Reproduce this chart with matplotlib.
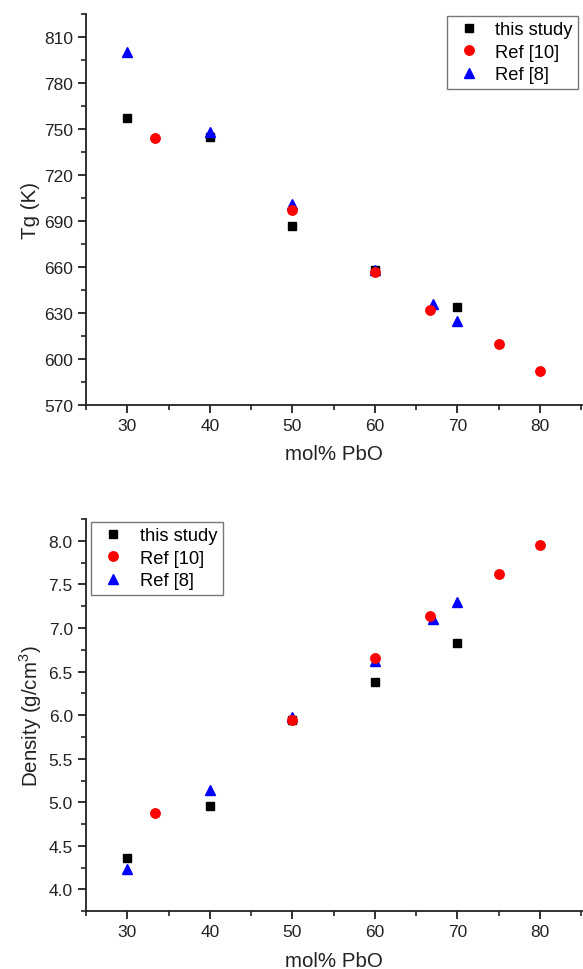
import numpy as np
import matplotlib
matplotlib.use("Agg")
import matplotlib.pyplot as plt
from matplotlib.ticker import MultipleLocator

plt.rcParams['font.family'] = ['Liberation Sans', 'DejaVu Sans']
plt.rcParams['mathtext.fontset'] = 'custom'
plt.rcParams['mathtext.rm'] = 'Liberation Sans'

# Tg data (K)
study_x = [30, 40, 50, 60, 70]
study_tg = [757, 745, 687, 658, 634]
ref10_x = [33.3, 50, 60, 66.7, 75, 80]
ref10_tg = [744, 697, 657, 632, 610, 592]
ref8_x = [30, 40, 50, 60, 67, 70]
ref8_tg = [800, 748, 701, 658, 636, 625]

# Density data (g/cm3)
study_rho = [4.36, 4.96, 5.94, 6.38, 6.83]
ref10_rho = [4.88, 5.95, 6.66, 7.14, 7.62, 7.95]
ref8_rho = [4.24, 5.14, 5.98, 6.62, 7.10, 7.30]

fig = plt.figure(figsize=(5.83, 9.70), dpi=100)
ax1 = fig.add_axes([0.1475, 0.5814, 0.851, 0.4034])
ax2 = fig.add_axes([0.1475, 0.0595, 0.851, 0.4044])

tick_col = '#222222'


def draw(ax, y_study, y_ref10, y_ref8):
    ax.plot(study_x, y_study, 's', color='black', markersize=6.0, label='this study', zorder=3)
    ax.plot(ref8_x, y_ref8, '^', color='blue', markersize=7.5, label='Ref [8]', zorder=4)
    ax.plot(ref10_x, y_ref10, 'o', color='red', markersize=6.8, label='Ref [10]', zorder=5)
    for s in ['top', 'right']:
        ax.spines[s].set_visible(False)
    for s in ['left', 'bottom']:
        ax.spines[s].set_linewidth(1.3)
        ax.spines[s].set_color('#222222')
    ax.set_xlim(25, 85.1)
    ax.xaxis.set_major_locator(MultipleLocator(10))
    ax.xaxis.set_minor_locator(MultipleLocator(5))
    ax.tick_params(which='major', direction='out', length=6, width=1.3, labelsize=12.5,
                   colors=tick_col)
    ax.tick_params(which='minor', direction='out', length=3.5, width=1.2, colors=tick_col)
    ax.set_xlabel('mol% PbO', fontsize=14.8, color=tick_col, labelpad=8)
    handles, labels = ax.get_legend_handles_labels()
    order = [0, 2, 1]
    return [handles[i] for i in order], [labels[i] for i in order]


def add_legend(ax, h, l, loc, anchor):
    leg = ax.legend(h, l, loc=loc, bbox_to_anchor=anchor,
                    bbox_transform=fig.transFigure, fontsize=13.2, frameon=True,
                    fancybox=False, edgecolor='#555555', handletextpad=0.5,
                    borderpad=0.3, labelspacing=0.3, handlelength=1.85,
                    borderaxespad=0)
    leg.get_frame().set_linewidth(1.0)
    return leg


h, l = draw(ax1, study_tg, ref10_tg, ref8_tg)
ax1.set_ylim(570, 825)
ax1.yaxis.set_major_locator(MultipleLocator(30))
ax1.yaxis.set_minor_locator(MultipleLocator(15))
ax1.set_ylabel('Tg (K)', fontsize=14.8, color=tick_col, labelpad=3)
add_legend(ax1, h, l, 'upper right', (0.992, 0.9828))

h, l = draw(ax2, study_rho, ref10_rho, ref8_rho)
ax2.set_ylim(3.75, 8.25)
ax2.yaxis.set_major_locator(MultipleLocator(0.5))
ax2.yaxis.set_minor_locator(MultipleLocator(0.25))
ax2.yaxis.set_major_formatter(matplotlib.ticker.FormatStrFormatter('%.1f'))
ax2.set_ylabel('Density (g/cm$^3$)', fontsize=14.8, color=tick_col, labelpad=3)
add_legend(ax2, h, l, 'upper left', (0.156, 0.4612))

fig.savefig('out.png', dpi=100)
